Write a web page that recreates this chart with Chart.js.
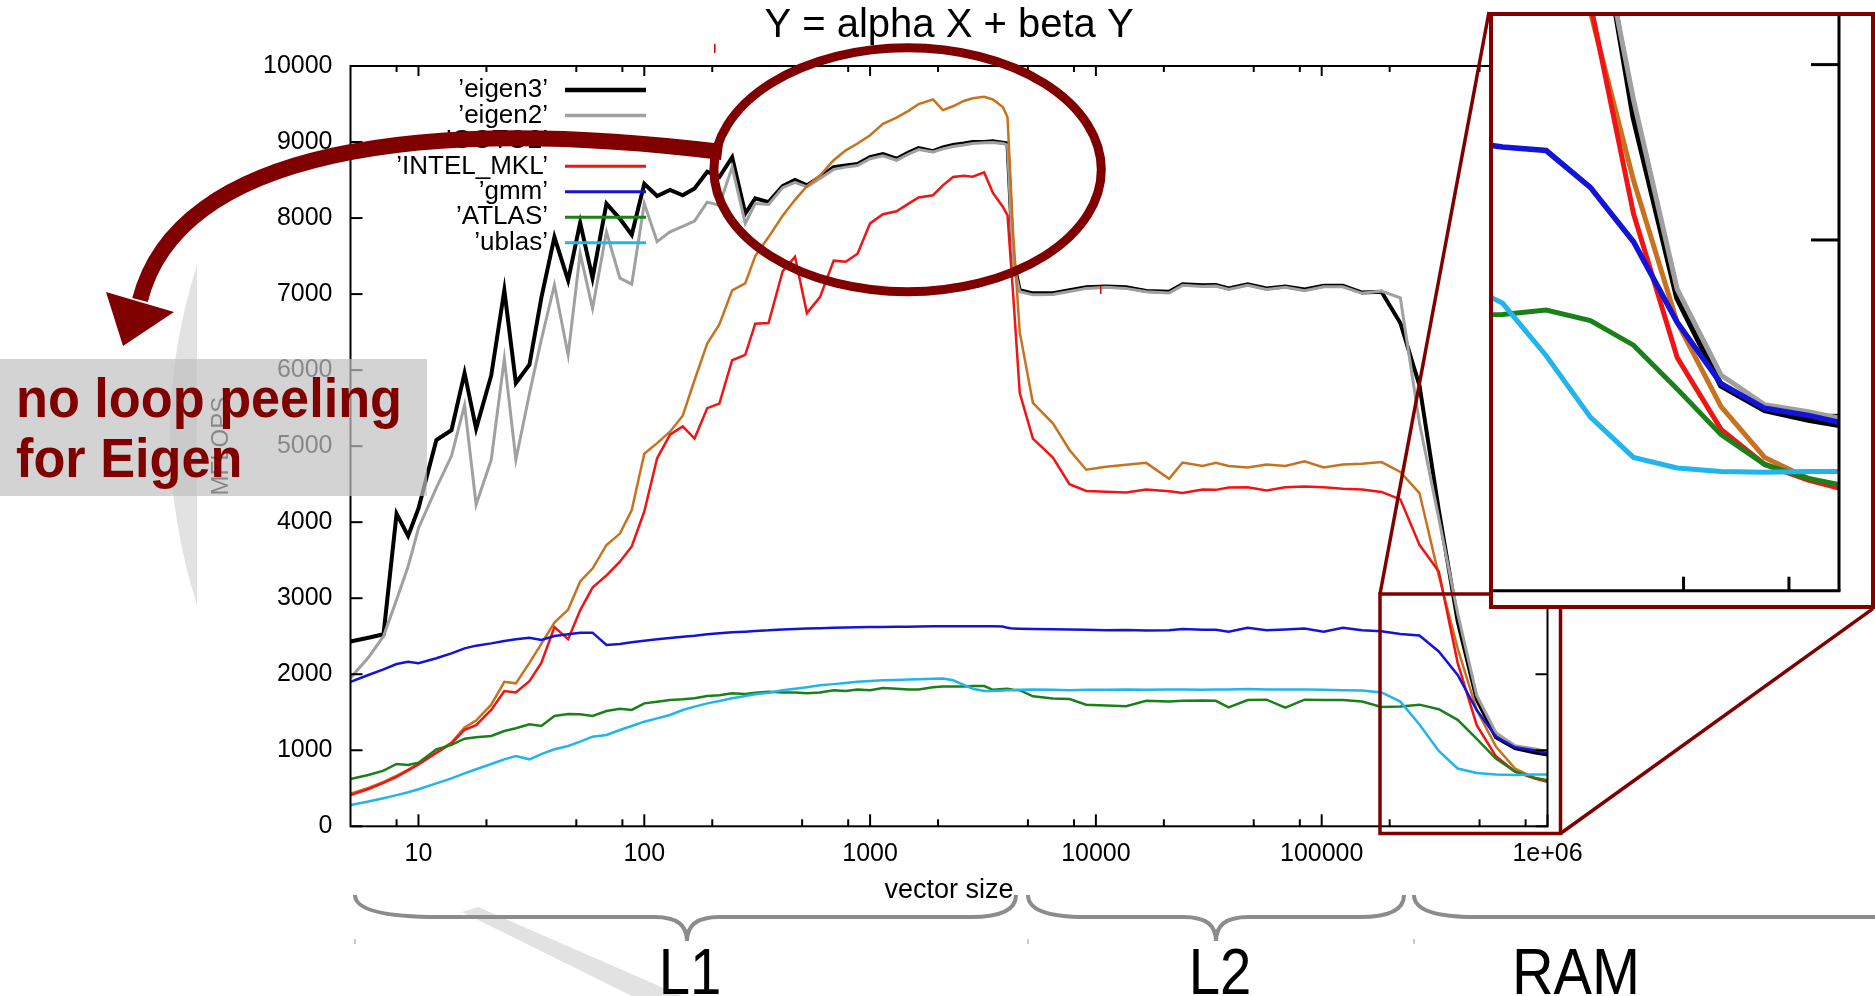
<!DOCTYPE html>
<html>
<head>
<meta charset="utf-8">
<title>Y = alpha X + beta Y</title>
<script src="https://cdn.jsdelivr.net/npm/chart.js@4.4.1/dist/chart.umd.min.js"></script>
<style>
  html, body { margin: 0; padding: 0; background: #ffffff; overflow: hidden; }
  #main { position: absolute; left: 0; top: 0; }
  #inset { position: absolute; left: 1489px; top: 12px; }
</style>
</head>
<body>
<canvas id="main" width="1875" height="996"></canvas>
<canvas id="inset" width="386" height="597"></canvas>
<script>
const sizes = [5, 6, 7, 8, 9, 10,
  12, 14, 16, 18, 21, 24, 27, 31, 35, 40,
  46, 52, 59, 68, 78, 88, 100, 114, 130, 148,
  167, 190, 215, 245, 280, 310, 355, 410, 465, 525,
  600, 690, 780, 880, 1000, 1140, 1310, 1480, 1640, 1900,
  2100, 2330, 2600, 2850, 3200, 3500, 3870, 4060, 4300, 4600,
  5260, 6450, 7640, 9060, 11100, 13600, 16700, 21100, 24200, 29700,
  34000, 38700, 47000, 57000, 69000, 84000, 102000, 124000, 151000, 184000,
  223000, 271000, 330000, 400000, 486000, 591000, 718000, 872000, 1000000];

const eigen3 = [2430, 2480, 2525, 4110, 3820, 4180,
  5080, 5210, 5960, 5230, 5930, 7050, 5830, 6070, 6950, 7750,
  7180, 7940, 7210, 8190, 7990, 7780, 8450, 8290, 8370, 8300,
  8390, 8610, 8540, 8800, 8060, 8260, 8210, 8420, 8500, 8430,
  8540, 8670, 8690, 8710, 8800, 8840, 8780, 8860, 8920, 8880,
  8930, 8960, 8980, 9000, 9000, 9010, 8990, 8980, 7450, 7050,
  7010, 7010, 7050, 7090, 7100, 7090, 7040, 7030, 7130, 7115,
  7120, 7075, 7130, 7075, 7100, 7060, 7110, 7110, 7020, 7030,
  6620, 5800, 4160, 2700, 1670, 1170, 1030, 975, 945];

const eigen2 = [1950, 2220, 2500, 2980, 3420, 3920,
  4450, 4870, 5540, 4230, 4820, 6150, 4820, 5690, 6400, 7120,
  6200, 7535, 6810, 7820, 7210, 7130, 8190, 7690, 7820, 7890,
  7960, 8210, 8170, 8670, 7930, 8190, 8180, 8400, 8470, 8410,
  8520, 8640, 8670, 8690, 8780, 8820, 8760, 8840, 8900, 8870,
  8910, 8940, 8960, 8980, 8990, 8995, 8980, 8960, 7400, 7030,
  6990, 6995, 7035, 7075, 7090, 7075, 7030, 7015, 7115, 7100,
  7105, 7060, 7115, 7060, 7090, 7045, 7095, 7095, 7010, 7040,
  6950, 5300, 4050, 2800, 1720, 1230, 1060, 1020, 985];

const goto2 = [430, 505, 585, 665, 745, 825,
  975, 1100, 1300, 1390, 1600, 1900, 1880, 2150, 2400, 2680,
  2850, 3220, 3390, 3700, 3850, 4160, 4900, 5040, 5190, 5400,
  5870, 6350, 6600, 7050, 7140, 7500, 7750, 8030, 8240, 8420,
  8560, 8760, 8890, 8980, 9090, 9240, 9320, 9410, 9500, 9560,
  9420, 9470, 9540, 9575, 9595, 9560, 9460, 9330, 7800, 6500,
  5570, 5300, 4950, 4690, 4730, 4755, 4780, 4570, 4785, 4740,
  4780, 4740, 4720, 4760, 4740, 4800, 4720, 4760, 4770, 4790,
  4660, 4383, 3300, 2340, 1530, 1050, 760, 640, 590];

const intelMkl = [410, 490, 570, 650, 735, 815,
  965, 1090, 1270, 1330, 1530, 1780, 1760, 1910, 2150, 2620,
  2460, 2840, 3140, 3300, 3480, 3680, 4140, 4840, 5150, 5260,
  5100, 5500, 5560, 6130, 6200, 6610, 6620, 7300, 7490, 6750,
  6960, 7440, 7425, 7530, 7930, 8050, 8090, 8190, 8270, 8300,
  8430, 8540, 8555, 8545, 8600, 8330, 8150, 8040, 7000, 5700,
  5100, 4850, 4500, 4410, 4400, 4390, 4430, 4408, 4383, 4430,
  4425, 4455, 4458, 4418, 4458, 4468, 4458, 4440, 4430, 4398,
  4300, 3703, 3350, 2150, 1330, 920, 720, 630, 585];

const gmm = [1900, 1990, 2065, 2135, 2165, 2145,
  2210, 2275, 2340, 2376, 2406, 2437, 2459, 2481, 2450, 2503,
  2525, 2547, 2547, 2384, 2398, 2420, 2441, 2459, 2476, 2494,
  2507, 2525, 2538, 2551, 2560, 2569, 2577, 2590, 2595, 2600,
  2605, 2610, 2615, 2618, 2620, 2622, 2625, 2626, 2628, 2630,
  2630, 2630, 2632, 2632, 2630, 2632, 2628, 2610, 2600, 2598,
  2596, 2592, 2588, 2586, 2580, 2582, 2575, 2580, 2596, 2585,
  2585, 2560, 2610, 2580, 2590, 2600, 2560, 2610, 2580, 2565,
  2530, 2510, 2300, 1990, 1530, 1180, 1040, 1000, 960];

const atlas = [622, 675, 732, 820, 807, 837,
  1013, 1070, 1153, 1170, 1188, 1254, 1289, 1341, 1320, 1451,
  1477, 1473, 1451, 1517, 1547, 1530, 1617, 1639, 1661, 1670,
  1683, 1714, 1723, 1749, 1740, 1758, 1771, 1760, 1760, 1750,
  1760, 1790, 1780, 1800, 1790, 1820, 1810, 1800, 1800, 1830,
  1840, 1840, 1840, 1845, 1845, 1795, 1805, 1810, 1795, 1790,
  1710, 1680, 1675, 1600, 1590, 1580, 1650, 1640, 1650, 1655,
  1650, 1565, 1660, 1665, 1560, 1665, 1660, 1660, 1640, 1570,
  1575, 1600, 1540, 1400, 1150, 890, 720, 640, 605];

const ublas = [280, 325, 370, 410, 447, 487,
  565, 631, 697, 750, 820, 880, 925, 881, 950, 1013,
  1056, 1113, 1179, 1201, 1267, 1319, 1376, 1420, 1464, 1530,
  1574, 1617, 1648, 1683, 1714, 1736, 1758, 1790, 1810, 1830,
  1855, 1870, 1885, 1900, 1910, 1920, 1925, 1930, 1935, 1940,
  1943, 1920, 1860, 1810, 1780, 1780, 1785, 1790, 1790, 1795,
  1800, 1795, 1790, 1795, 1795, 1800, 1795, 1800, 1800, 1795,
  1800, 1800, 1805, 1800, 1800, 1800, 1795, 1790, 1785, 1760,
  1640, 1340, 990, 760, 700, 680, 675, 680, 680];

const seriesNames = ['eigen3', 'eigen2', 'GOTO2', 'INTEL_MKL', 'gmm', 'ATLAS', 'ublas'];
const allSeries = [eigen3, eigen2, goto2, intelMkl, gmm, atlas, ublas];

const xMajorTicks = [10, 100, 1000, 10000, 100000, 1000000];
const xTickLabels = ['10', '100', '1000', '10000', '100000', '1e+06'];
const xMinorTicks = [8, 20, 50, 80, 200, 500, 800, 2000, 5000, 8000, 20000, 50000, 80000, 200000, 500000, 800000];
const yTicks = [0, 1000, 2000, 3000, 4000, 5000, 6000, 7000, 8000, 9000, 10000];
const insetXTicks = [500000, 800000];
const insetYTicks = [1000, 2000, 3000];

const colors = ['#000000', '#a0a0a0', '#c8721e', '#f01414', '#1414d8', '#1a801a', '#22b4ec'];
const mainWidths = [4, 3, 2.5, 2.5, 2.5, 2.5, 2.5];
const insetWidths = [6, 5, 5, 5, 5.5, 5, 5];
const FONT = '"Liberation Sans", Arial, sans-serif';
const DARKRED = '#800000';

Chart.defaults.font.family = FONT;
Chart.defaults.color = '#000000';

function makeDatasets(widths) {
  return allSeries.map((values, i) => ({
    label: seriesNames[i],
    data: values.map((v, j) => ({ x: sizes[j], y: v })),
    borderColor: colors[i],
    backgroundColor: colors[i],
    borderWidth: widths[i],
    pointRadius: 0,
    tension: 0,
    fill: false,
    order: allSeries.length - i
  }));
}

function line(ctx, x1, y1, x2, y2) {
  ctx.beginPath();
  ctx.moveTo(x1, y1);
  ctx.lineTo(x2, y2);
  ctx.stroke();
}

function squeezedText(ctx, text, x, y, sx, align) {
  ctx.save();
  ctx.translate(x, y);
  ctx.scale(sx, 1);
  ctx.textAlign = align;
  ctx.fillText(text, 0, 0);
  ctx.restore();
}

function brace(ctx, x1, x2, xm, r1, r2, rt) {
  const yTop = 895, yFlat = 917, yTip = 941;
  ctx.beginPath();
  ctx.moveTo(x1, yTop);
  ctx.quadraticCurveTo(x1, yFlat, x1 + r1, yFlat);
  ctx.lineTo(xm - rt, yFlat);
  ctx.quadraticCurveTo(xm, yFlat, xm, yTip);
  ctx.quadraticCurveTo(xm, yFlat, xm + rt, yFlat);
  ctx.lineTo(x2 - r2, yFlat);
  ctx.quadraticCurveTo(x2, yFlat, x2, yTop);
  ctx.stroke();
}

const mainDecor = {
  id: 'mainDecor',
  afterDraw(chart) {
    const ctx = chart.ctx;
    const a = chart.chartArea;
    const xs = chart.scales.x;
    const ys = chart.scales.y;
    ctx.save();
    ctx.lineCap = 'butt';

    // plot frame with inward ticks, gnuplot style
    ctx.strokeStyle = '#000000';
    ctx.lineWidth = 2;
    ctx.strokeRect(a.left, a.top, a.right - a.left, a.bottom - a.top);
    xMajorTicks.forEach(v => {
      const px = xs.getPixelForValue(v);
      line(ctx, px, a.bottom, px, a.bottom - 12);
      line(ctx, px, a.top, px, a.top + 10);
    });
    xMinorTicks.forEach(v => {
      const px = xs.getPixelForValue(v);
      line(ctx, px, a.bottom, px, a.bottom - 7);
      line(ctx, px, a.top, px, a.top + 6);
    });
    yTicks.forEach(v => {
      const py = ys.getPixelForValue(v);
      line(ctx, a.left, py, a.left + 12, py);
      line(ctx, a.right, py, a.right - 12, py);
    });

    // legend: label then line sample
    ctx.font = '26px ' + FONT;
    ctx.textAlign = 'right';
    ctx.textBaseline = 'middle';
    chart.data.datasets.forEach((ds, i) => {
      const y = 90 + i * 25.45;
      ctx.fillStyle = '#000000';
      ctx.fillText('\u2019' + ds.label + '\u2019', 548, y);
      ctx.strokeStyle = ds.borderColor;
      ctx.lineWidth = ds.borderWidth + 0.5;
      line(ctx, 565, y, 646, y);
    });

    // light gray swooshes
    ctx.fillStyle = '#e2e2e2';
    ctx.beginPath();
    ctx.moveTo(197, 265);
    ctx.quadraticCurveTo(143, 435, 197, 605);
    ctx.closePath();
    ctx.fill();
    ctx.beginPath();
    ctx.moveTo(462, 912);
    ctx.lineTo(478, 907);
    ctx.lineTo(682, 996);
    ctx.lineTo(632, 996);
    ctx.closePath();
    ctx.fill();

    // cache level braces
    ctx.strokeStyle = '#8c8c8c';
    ctx.lineWidth = 4;
    brace(ctx, 355, 1016, 687, 85, 45, 32);
    brace(ctx, 1028, 1404, 1216, 58, 44, 32);
    ctx.beginPath();
    ctx.moveTo(1414, 895);
    ctx.quadraticCurveTo(1414, 917, 1476, 917);
    ctx.lineTo(1875, 917);
    ctx.stroke();
    ctx.strokeStyle = '#bbbbbb';
    ctx.lineWidth = 1.5;
    [355, 1028, 1414].forEach(x => line(ctx, x, 939, x, 944));

    ctx.fillStyle = '#000000';
    ctx.textBaseline = 'alphabetic';
    ctx.font = '64px ' + FONT;
    squeezedText(ctx, 'L1', 690, 994, 0.88, 'center');
    squeezedText(ctx, 'L2', 1220, 994, 0.88, 'center');
    squeezedText(ctx, 'RAM', 1576, 994, 0.9, 'center');

    // zoom box and connectors to the inset
    ctx.strokeStyle = DARKRED;
    ctx.lineWidth = 3.5;
    ctx.strokeRect(1380, 594, 180.5, 239.5);
    line(ctx, 1380, 594, 1489, 12);
    line(ctx, 1560.5, 833.5, 1873, 608.7);

    // ellipse around the peak
    ctx.lineWidth = 9;
    ctx.beginPath();
    ctx.ellipse(907.6, 169.8, 193.7, 122, 0, 0, Math.PI * 2);
    ctx.stroke();

    // curved arrow
    ctx.lineWidth = 16;
    ctx.beginPath();
    ctx.moveTo(722, 152);
    ctx.bezierCurveTo(420, 115, 178, 150, 140, 300);
    ctx.stroke();
    ctx.fillStyle = DARKRED;
    ctx.beginPath();
    ctx.moveTo(106, 292);
    ctx.lineTo(174, 312);
    ctx.lineTo(123, 346);
    ctx.closePath();
    ctx.fill();

    // note box
    ctx.fillStyle = 'rgba(192,192,192,0.7)';
    ctx.fillRect(0, 359, 427, 137);
    ctx.fillStyle = DARKRED;
    ctx.font = 'bold 55px ' + FONT;
    squeezedText(ctx, 'no loop peeling', 16, 417, 0.95, 'left');
    squeezedText(ctx, 'for Eigen', 16, 477, 0.95, 'left');

    // small stray marks
    ctx.fillStyle = '#dd0000';
    ctx.fillRect(714, 44, 1.5, 9);
    ctx.fillRect(1100, 286, 1.5, 8);
    ctx.restore();
  }
};

const insetDecor = {
  id: 'insetDecor',
  beforeDraw(chart) {
    const ctx = chart.ctx;
    ctx.save();
    ctx.fillStyle = '#ffffff';
    ctx.fillRect(0, 0, chart.width, chart.height);
    ctx.restore();
  },
  beforeDatasetsDraw(chart) {
    const ctx = chart.ctx;
    const a = chart.chartArea;
    ctx.save();
    ctx.strokeStyle = '#000000';
    ctx.lineWidth = 3;
    insetXTicks.forEach(v => {
      const px = chart.scales.x.getPixelForValue(v);
      line(ctx, px, a.bottom, px, a.bottom - 14);
    });
    insetYTicks.forEach(v => {
      const py = chart.scales.y.getPixelForValue(v);
      line(ctx, a.right, py, a.right - 28, py);
    });
    ctx.restore();
  },
  afterDraw(chart) {
    const ctx = chart.ctx;
    const a = chart.chartArea;
    ctx.save();
    ctx.strokeStyle = '#000000';
    ctx.lineWidth = 3;
    line(ctx, a.left, a.bottom, a.right + 1.5, a.bottom);
    line(ctx, a.right, a.top, a.right, a.bottom);
    ctx.strokeStyle = DARKRED;
    ctx.lineWidth = 4;
    ctx.strokeRect(2, 2, chart.width - 4, chart.height - 4);
    ctx.restore();
  }
};

new Chart(document.getElementById('main'), {
  type: 'line',
  data: { datasets: makeDatasets(mainWidths) },
  options: {
    responsive: false,
    animation: false,
    events: [],
    layout: { padding: { left: 0, right: 327.5, top: 0, bottom: 0 } },
    scales: {
      x: {
        type: 'logarithmic',
        min: 5,
        max: 1000000,
        afterBuildTicks: scale => { scale.ticks = xMajorTicks.map(v => ({ value: v })); },
        afterFit: scale => { scale.height = 169.7; },
        ticks: {
          callback: (v, i) => xTickLabels[i],
          autoSkip: false,
          maxRotation: 0,
          minRotation: 0,
          padding: 13,
          font: { size: 25 },
          color: '#000000'
        },
        grid: { display: false, drawTicks: false },
        border: { display: false },
        title: { display: true, text: 'vector size', font: { size: 27 }, color: '#000000', padding: { top: 0, bottom: 89 } }
      },
      y: {
        type: 'linear',
        min: 0,
        max: 10000,
        afterBuildTicks: scale => { scale.ticks = yTicks.map(v => ({ value: v })); },
        afterFit: scale => { scale.width = 350.5; },
        ticks: {
          callback: v => String(v),
          padding: 18,
          font: { size: 25 },
          color: '#000000'
        },
        grid: { display: false, drawTicks: false },
        border: { display: false },
        title: { display: true, text: 'MFLOPS', font: { size: 24 }, color: '#000000', padding: { top: 207, bottom: 0 } }
      }
    },
    plugins: {
      legend: { display: false },
      tooltip: { enabled: false },
      title: {
        display: true,
        text: 'Y = alpha X + beta Y',
        fullSize: false,
        font: { size: 40, weight: 'normal' },
        color: '#000000',
        padding: { top: 2, bottom: 16 }
      }
    }
  },
  plugins: [mainDecor]
});

new Chart(document.getElementById('inset'), {
  type: 'line',
  data: { datasets: makeDatasets(insetWidths) },
  options: {
    responsive: false,
    animation: false,
    events: [],
    layout: { padding: { left: 0, right: 36, top: 0, bottom: 18.3 } },
    scales: {
      x: { type: 'logarithmic', min: 210000, max: 1000000, display: false },
      y: { type: 'linear', min: 0, max: 3300, display: false }
    },
    plugins: {
      legend: { display: false },
      tooltip: { enabled: false },
      title: { display: false }
    }
  },
  plugins: [insetDecor]
});
</script>
</body>
</html>
